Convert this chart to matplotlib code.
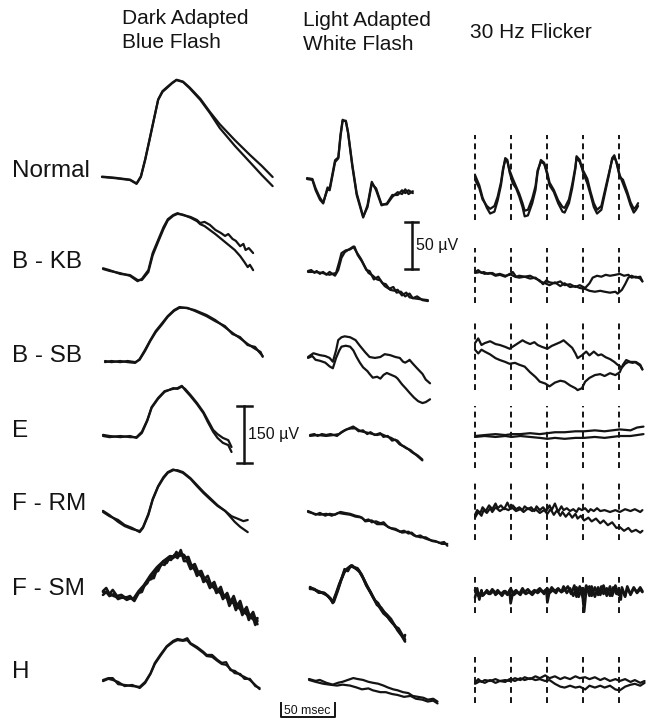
import numpy as np
import matplotlib
matplotlib.use("Agg")
import matplotlib.pyplot as plt
import matplotlib.transforms as mtransforms

# ---- data: each trace is a list of (time ms, amplitude uV) ----
# Dark adapted blue flash
da_normal_a = [(0,0),(12,-3),(26,-8),(32,-18),(36,0),(40,45),(44,97),(49,163),(52,203),(56,224),(60,234),(65,247),(69,255),(75,250),(81,234),(91,203),(100,168),(109,129),(123,82),(137,39),(148,5),(158,-24)]
da_normal_b = [(0,1),(12,-2),(26,-7),(32,-17),(36,2),(40,47),(44,99),(49,165),(52,204),(56,226),(60,236),(65,248),(69,256),(75,251),(81,236),(91,206),(100,171),(109,139),(123,97),(137,58),(148,29),(158,0)]
da_kb_a = [(0,0),(6,-5),(16,-11),(25,-18),(32,-32),(36,-26),(42,-3),(46,42),(51,76),(56,110),(60,131),(65,142),(69,147),(74,142),(81,137),(87,129),(90,121),(94,124),(99,116),(104,103),(109,95),(113,87),(116,92),(120,79),(123,74),(127,60),(130,66),(132,50),(135,55),(139,42)]
da_kb_b = [(0,2),(6,-3),(16,-13),(25,-16),(32,-29),(36,-29),(42,-8),(46,36),(51,71),(56,105),(60,128),(65,140),(69,145),(74,143),(81,135),(87,126),(90,118),(94,113),(104,92),(113,71),(122,50),(127,34),(131,18),(134,5),(136,11),(139,-3)]
da_sb_a = [(0,0),(6,-3),(14,0),(21,-3),(28,-5),(32,5),(37,29),(42,55),(47,79),(53,100),(58,118),(64,134),(69,142),(76,139),(83,134),(94,121),(102,108),(111,89),(118,74),(125,60),(132,45),(139,32),(144,24),(146,11)]
da_sb_b = [(0,-3),(6,0),(14,-3),(21,0),(28,-3),(32,3),(37,26),(42,53),(47,76),(53,97),(58,116),(64,132),(69,140),(76,140),(83,132),(94,118),(102,105),(111,92),(118,71),(125,63),(132,42),(139,37),(142,26),(146,13)]
da_e_a = [(0,0),(6,-3),(16,0),(25,-3),(31,-3),(36,11),(41,42),(45,76),(51,100),(57,118),(65,124),(69,126),(73,132),(76,121),(81,105),(87,84),(93,60),(97,37),(102,11),(106,-5),(111,-18),(116,-24),(119,-42)]
da_e_b = [(0,3),(6,0),(16,-3),(25,0),(31,-5),(36,8),(41,40),(45,74),(51,98),(57,116),(65,126),(69,124),(73,130),(76,124),(81,108),(87,87),(93,63),(97,42),(102,16),(106,5),(111,-5),(116,-11),(119,-29)]
da_rm_a = [(0,0),(6,-11),(14,-21),(20,-34),(27,-42),(34,-53),(37,-42),(42,-8),(46,32),(51,66),(56,89),(60,103),(65,110),(69,110),(74,105),(81,89),(87,71),(93,53),(99,37),(106,18),(113,3),(119,-11),(125,-18),(130,-24),(134,-21)]
da_rm_b = [(0,3),(6,-8),(14,-26),(20,-37),(27,-45),(34,-50),(37,-40),(42,-5),(46,34),(51,68),(56,92),(60,105),(65,112),(69,108),(74,103),(81,87),(87,68),(93,50),(99,34),(106,16),(113,3),(118,-13),(122,-26),(127,-39),(134,-53)]
da_sm_a = [(0,5),(3,13),(6,-3),(9,8),(13,-8),(17,-5),(21,-13),(25,-8),(28,-18),(32,-3),(35,8),(38,18),(41,26),(44,45),(47,39),(50,63),(53,71),(56,84),(59,79),(62,95),(65,92),(68,108),(70,97),(73,100),(76,92),(79,95),(82,71),(85,76),(88,55),(91,58),(94,37),(97,45),(100,21),(103,29),(106,5),(109,16),(112,-10),(115,0),(118,-24),(121,-8),(124,-34),(127,-21),(130,-50),(133,-37),(136,-63),(139,-50),(142,-76),(143,-66)]
da_sm_b = [(0,-5),(3,3),(6,-8),(10,-3),(14,-16),(18,-10),(22,-18),(26,-13),(29,-21),(33,0),(36,3),(39,24),(42,34),(45,37),(48,55),(51,58),(54,76),(57,74),(60,89),(63,87),(66,100),(69,92),(72,113),(75,84),(78,84),(81,63),(84,68),(87,45),(90,55),(93,29),(96,34),(99,13),(102,24),(105,0),(108,8),(111,-16),(114,-5),(117,-34),(120,-18),(123,-45),(126,-29),(129,-58),(132,-42),(135,-71),(138,-55),(141,-84),(143,-74)]
da_sm_c = [(0,3),(5,0),(10,-8),(16,-13),(22,-11),(28,-16),(33,5),(38,21),(44,47),(50,68),(56,84),(62,97),(67,95),(71,105),(75,100),(80,79),(86,58),(92,42),(98,26),(104,10),(110,-3),(116,-16),(122,-29),(128,-45),(134,-58),(140,-71),(143,-82)]
da_h_a = [(0,0),(5,5),(9,5),(14,-11),(20,-13),(27,-16),(34,-18),(39,-5),(44,18),(48,45),(53,66),(59,89),(65,103),(69,108),(74,105),(78,110),(81,97),(87,87),(93,74),(96,66),(101,66),(106,53),(110,45),(114,47),(118,26),(122,24),(127,13),(131,8),(136,0),(141,-13),(145,-24)]
da_h_b = [(0,-3),(5,3),(9,0),(14,-5),(20,-16),(27,-13),(34,-21),(39,-8),(44,16),(48,42),(53,63),(59,87),(65,100),(69,105),(74,103),(78,105),(81,95),(87,84),(93,71),(96,63),(101,61),(106,50),(110,42),(114,40),(118,29),(122,18),(127,16),(131,3),(136,3),(141,-16),(145,-21)]

# Light adapted white flash
la_normal_a = [(0,0),(5,-1),(8,-12),(12,-22),(15,-26),(19,-9),(21,-10),(26,20),(29,23),(31,47),(33,63),(36,61),(38,49),(42,13),(46,-17),(52,-41),(56,-28),(60,-3),(64,-12),(69,-28),(74,-26),(79,-17),(84,-17),(88,-12),(91,-15),(94,-12),(98,-15)]
la_normal_b = [(0,1),(5,0),(8,-10),(12,-20),(15,-25),(19,-11),(21,-12),(26,18),(29,22),(31,45),(33,62),(36,62),(38,50),(42,15),(46,-15),(52,-40),(56,-30),(60,-5),(64,-10),(69,-27),(74,-27),(79,-19),(84,-14),(88,-16),(91,-11),(94,-16),(98,-13)]
la_kb_a = [(0,0),(3,1),(6,-2),(8,0),(11,-3),(14,-1),(17,-4),(20,-1),(25,-5),(28,1),(31,14),(34,20),(38,23),(42,26),(45,20),(49,13),(53,4),(56,-2),(60,-5),(64,-9),(67,-10),(71,-16),(75,-19),(79,-17),(82,-23),(86,-22),(90,-27),(94,-24),(97,-29),(101,-27),(106,-31),(111,-32)]
la_kb_b = [(0,-1),(6,-1),(13,-2),(20,-4),(26,-2),(29,10),(31,19),(35,22),(39,23),(43,26),(46,17),(50,10),(54,1),(57,0),(61,-9),(65,-6),(69,-13),(72,-14),(76,-20),(80,-21),(83,-20),(87,-26),(91,-23),(94,-28),(98,-29),(104,-30),(111,-31)]
la_sb_a = [(0,0),(5,4),(11,2),(16,1),(20,-1),(23,-5),(26,7),(28,18),(31,21),(34,22),(39,21),(44,18),(48,12),(53,5),(57,0),(62,-1),(67,0),(71,3),(76,2),(81,0),(85,-1),(88,-5),(90,-6),(93,-4),(94,-3),(97,-7),(101,-12),(106,-18),(109,-24),(113,-28)]
la_sb_b = [(0,-1),(4,1),(7,-3),(11,-4),(16,-6),(20,-10),(23,-12),(26,-1),(29,7),(31,11),(35,12),(39,11),(42,7),(45,0),(48,-6),(51,-11),(55,-15),(57,-18),(60,-22),(64,-21),(67,-23),(70,-19),(73,-17),(77,-19),(81,-21),(83,-23),(87,-29),(91,-34),(94,-38),(98,-43),(102,-47),(106,-49),(109,-48),(113,-45)]
la_e_a = [(0,0),(4,1),(7,-1),(11,1),(15,0),(19,1),(25,-1),(29,3),(32,5),(36,7),(40,9),(44,6),(47,4),(51,3),(55,2),(58,1),(62,0),(66,1),(70,-1),(72,-2),(75,-3),(78,-5),(81,-6),(85,-11),(89,-14),(93,-16),(96,-19),(100,-22),(104,-26)]
la_e_b = [(0,-1),(7,0),(15,-1),(22,0),(27,1),(31,4),(34,6),(38,7),(42,7),(45,4),(49,5),(53,1),(56,3),(60,0),(65,2),(68,-2),(72,-1),(76,-6),(79,-5),(83,-10),(87,-12),(91,-15),(94,-18),(98,-21),(104,-27)]
la_rm_a = [(0,0),(4,-2),(7,-4),(11,-2),(16,-5),(20,-3),(25,-4),(30,-1),(34,-2),(39,-3),(44,-5),(48,-6),(53,-10),(56,-9),(59,-12),(63,-11),(67,-13),(70,-12),(74,-17),(78,-19),(81,-20),(85,-22),(89,-21),(93,-24),(96,-23),(100,-27),(104,-26),(108,-29),(113,-31),(118,-32),(122,-34),(126,-33),(129,-37)]
la_rm_b = [(0,-1),(6,-3),(11,-4),(17,-3),(22,-5),(28,-2),(33,-3),(39,-4),(44,-6),(50,-7),(53,-11),(59,-10),(64,-14),(70,-14),(76,-18),(81,-19),(87,-23),(93,-22),(98,-26),(104,-28),(109,-28),(115,-32),(120,-33),(124,-35),(129,-35)]
la_sm_a = [(0,0),(5,-2),(9,-4),(14,-6),(19,-11),(21,-16),(25,-4),(28,6),(31,16),(33,19),(37,23),(41,22),(44,21),(48,14),(52,3),(56,-4),(59,-11),(62,-18),(66,-21),(69,-26),(74,-34),(78,-39),(81,-45),(85,-51),(88,-57)]
la_sm_b = [(0,-1),(4,-1),(8,-5),(13,-5),(17,-9),(21,-15),(24,-6),(27,4),(30,12),(32,20),(35,18),(38,24),(42,21),(45,19),(49,11),(53,1),(57,-7),(60,-13),(63,-16),(67,-24),(71,-28),(75,-33),(79,-41),(82,-43),(85,-49),(88,-55)]
la_sm_c = [(0,1),(6,-3),(11,-5),(16,-8),(20,-13),(22,-15),(26,-2),(29,9),(32,17),(35,21),(39,24),(43,20),(46,17),(50,9),(54,0),(58,-9),(61,-15),(64,-20),(68,-27),(72,-31),(76,-37),(80,-42),(84,-49),(87,-54),(88,-50)]
la_h_a = [(0,0),(6,-2),(10,-1),(16,-4),(22,-6),(27,-4),(31,-3),(36,-1),(41,1),(45,0),(50,-1),(55,-3),(59,-4),(64,-5),(69,-7),(73,-9),(78,-11),(82,-12),(87,-14),(92,-15),(96,-18),(101,-19),(106,-20),(110,-22),(115,-21),(119,-24)]
la_h_b = [(0,-1),(6,-3),(13,-5),(19,-6),(26,-7),(31,-6),(38,-7),(44,-9),(49,-11),(55,-10),(59,-12),(66,-14),(71,-14),(77,-16),(82,-17),(88,-19),(94,-18),(99,-21),(105,-22),(110,-24),(115,-23),(119,-26)]

# 30 Hz flicker
fl_normal_a = [(0,0),(4,-11),(7,-24),(11,-35),(14,-41),(18,-39),(21,-27),(24,-11),(26,5),(28,18),(30,16),(32,3),(35,-9),(38,-14),(41,-23),(44,-34),(46,-44),(49,-43),(53,-30),(56,-16),(58,3),(61,16),(64,13),(67,0),(69,-11),(73,-18),(77,-30),(81,-39),(83,-40),(87,-30),(90,-14),(93,7),(94,20),(97,16),(100,3),(104,-9),(107,-21),(110,-34),(113,-41),(117,-37),(120,-21),(124,0),(127,18),(129,21),(131,13),(134,0),(137,-9),(141,-21),(144,-32),(147,-40),(149,-37),(151,-33)]
fl_normal_b = [(0,-5),(4,-14),(7,-26),(11,-33),(14,-36),(18,-33),(21,-23),(24,-8),(26,7),(28,16),(30,14),(32,5),(35,-4),(38,-12),(41,-20),(44,-30),(46,-38),(49,-37),(53,-25),(56,-12),(58,5),(61,14),(64,12),(67,2),(69,-8),(73,-16),(77,-27),(81,-34),(83,-35),(87,-26),(90,-10),(93,9),(94,18),(97,14),(100,5),(104,-4),(107,-18),(110,-30),(113,-37),(117,-33),(120,-18),(124,2),(127,16),(129,19),(131,14),(134,-2),(137,-5),(141,-18),(144,-29),(147,-36),(149,-34),(151,-30)]
fl_kb_a = [(0,0),(3,2),(6,-1),(8,0),(12,-2),(16,-1),(19,-3),(23,-2),(28,-4),(32,-3),(35,0),(38,-5),(41,-4),(46,-5),(51,-4),(56,-7),(60,-9),(63,-13),(66,-9),(69,-11),(74,-12),(79,-10),(83,-14),(88,-13),(93,-16),(97,-14),(102,-17),(106,-12),(109,-6),(113,-4),(117,-5),(121,-3),(125,-4),(130,-3),(134,-2),(138,-4),(142,-3),(145,-6),(149,-5),(153,-7),(155,-10)]
fl_kb_b = [(0,-1),(5,0),(9,-2),(14,-1),(19,-4),(23,-3),(28,-5),(32,-2),(37,-5),(41,-6),(46,-5),(51,-7),(56,-6),(60,-10),(65,-12),(69,-14),(74,-11),(79,-15),(83,-12),(88,-16),(93,-15),(97,-17),(102,-18),(106,-20),(111,-21),(116,-20),(120,-21),(125,-22),(130,-21),(132,-23),(136,-19),(139,-13),(142,-6),(145,-4),(149,-6),(153,-5),(155,-10)]
fl_sb_a = [(0,2),(3,7),(6,0),(9,2),(14,4),(19,1),(23,0),(28,-2),(32,-4),(36,-1),(40,2),(44,5),(47,3),(51,1),(55,3),(58,0),(62,-2),(67,-4),(71,-1),(75,1),(79,3),(82,5),(86,1),(90,-3),(93,-9),(95,-14),(99,-11),(103,-7),(106,-11),(110,-7),(114,-11),(117,-10),(121,-13),(125,-15),(129,-18),(132,-21),(136,-24),(139,-20),(142,-18),(146,-19),(149,-18),(153,-21),(155,-26)]
fl_sb_b = [(0,-5),(3,-9),(6,-5),(9,-7),(14,-10),(19,-14),(23,-16),(28,-18),(32,-20),(37,-19),(41,-21),(46,-23),(51,-29),(56,-34),(60,-39),(65,-41),(69,-44),(74,-40),(79,-38),(83,-39),(88,-43),(93,-46),(95,-48),(99,-46),(102,-39),(106,-35),(111,-32),(116,-31),(120,-33),(125,-30),(130,-32),(134,-29),(137,-21),(140,-16),(144,-18),(148,-18),(153,-22),(155,-26)]
fl_e_a = [(0,0),(9,1),(19,2),(28,1),(34,2),(42,2),(51,3),(60,2),(67,3),(74,4),(83,4),(93,5),(101,5),(111,6),(120,5),(127,6),(134,7),(144,6),(150,9),(156,10)]
fl_e_b = [(0,-1),(9,0),(19,-1),(28,0),(34,-1),(42,0),(51,-1),(60,-2),(67,-3),(74,-2),(83,-3),(93,-2),(101,-2),(111,-1),(120,-2),(127,-1),(134,0),(144,0),(150,1),(156,2)]
fl_rm_a = [(0,-3),(2,2),(5,-1),(7,5),(10,1),(13,7),(16,3),(19,9),(21,4),(24,7),(27,3),(30,10),(32,5),(35,7),(38,3),(41,5),(44,2),(46,6),(49,3),(52,5),(55,1),(57,6),(60,2),(63,5),(66,1),(69,7),(71,2),(74,9),(77,0),(80,6),(82,2),(85,4),(88,1),(91,3),(94,0),(96,4),(99,2),(102,4),(105,0),(107,3),(110,1),(113,4),(116,1),(120,2),(125,0),(130,2),(134,0),(139,3),(144,1),(148,3),(153,0),(155,2)]
fl_rm_b = [(0,-6),(3,0),(6,-4),(8,2),(11,-1),(14,4),(16,0),(19,5),(23,1),(27,4),(31,2),(34,5),(38,1),(42,3),(45,0),(49,4),(53,1),(56,3),(60,-1),(64,2),(67,-2),(70,3),(73,-3),(76,2),(79,-4),(81,0),(84,-5),(87,-1),(90,-6),(93,-2),(95,-7),(98,-4),(101,-9),(105,-6),(108,-10),(112,-7),(116,-12),(119,-9),(123,-14),(127,-11),(131,-17),(134,-16),(138,-20),(142,-17),(145,-21),(149,-19),(153,-22),(155,-20)]
fl_sm_a = [(0,-5),(2,5),(4,-7),(6,3),(7,-3),(10,1),(13,-1),(16,4),(19,0),(21,3),(24,-1),(27,2),(30,-2),(32,3),(33,-11),(35,0),(38,3),(41,-1),(44,5),(46,1),(49,4),(52,0),(55,3),(57,2),(60,5),(63,1),(66,4),(67,-10),(69,2),(71,6),(74,2),(77,5),(80,1),(82,7),(85,0),(88,5),(91,-3),(94,6),(96,-4),(99,5),(101,-20),(103,3),(106,7),(108,-3),(111,6),(114,-2),(117,7),(119,-1),(122,5),(125,-3),(128,6),(131,-1),(133,4),(135,-7),(136,6),(139,-3),(141,5),(144,-1),(147,6),(150,0),(153,4),(155,1)]
fl_sm_b = [(0,3),(3,-3),(6,1),(8,-2),(11,3),(14,-1),(17,2),(19,-2),(22,1),(25,-3),(28,2),(31,-1),(33,5),(36,-2),(39,1),(42,-2),(44,2),(47,-1),(50,1),(53,-2),(56,2),(58,0),(61,3),(64,-1),(67,5),(69,0),(72,3),(75,0),(77,4),(80,1),(83,3),(86,7),(89,-1),(92,8),(94,-4),(97,7),(100,-5),(103,8),(106,-3),(108,7),(111,-4),(114,6),(116,-2),(119,8),(122,-3),(125,7),(127,-3),(130,8),(133,-2),(136,4),(139,-4),(141,7),(144,-2),(147,5),(150,1),(153,6),(155,2)]
fl_h_a = [(0,-2),(3,2),(6,-1),(9,1),(14,0),(19,2),(23,0),(28,1),(32,0),(37,3),(42,1),(46,4),(51,2),(56,5),(60,3),(65,6),(69,3),(74,5),(79,2),(83,4),(88,2),(93,5),(97,3),(102,4),(106,2),(111,4),(116,1),(120,3),(125,0),(130,2),(134,0),(139,2),(144,-1),(148,1),(153,-2),(157,0)]
fl_h_b = [(0,-3),(5,0),(9,-2),(14,1),(19,-2),(23,0),(28,-1),(32,2),(37,0),(42,3),(46,1),(51,3),(56,1),(60,2),(65,0),(69,1),(74,-3),(79,-6),(83,-7),(88,-5),(93,-7),(97,-6),(102,-9),(106,-5),(111,-7),(116,-5),(120,-7),(125,-5),(130,-9),(134,-10),(139,-6),(144,-4),(148,-3),(153,-5),(157,-2)]

flash_times = [0, 33, 67, 100, 133]  # ms, 30 Hz stimuli

rows = ["Normal", "B - KB", "B - SB", "E", "F - RM", "F - SM", "H"]

traces = {
    0: [[da_normal_a, da_normal_b], [da_kb_a, da_kb_b], [da_sb_a, da_sb_b], [da_e_a, da_e_b],
        [da_rm_a, da_rm_b], [da_sm_a, da_sm_b, da_sm_c], [da_h_a, da_h_b]],
    1: [[la_normal_a, la_normal_b], [la_kb_a, la_kb_b], [la_sb_a, la_sb_b], [la_e_a, la_e_b],
        [la_rm_a, la_rm_b], [la_sm_a, la_sm_b, la_sm_c], [la_h_a, la_h_b]],
    2: [[fl_normal_a, fl_normal_b], [fl_kb_a, fl_kb_b], [fl_sb_a, fl_sb_b], [fl_e_a, fl_e_b],
        [fl_rm_a, fl_rm_b], [fl_sm_a, fl_sm_b], [fl_h_a, fl_h_b]],
}

# ---- layout (pixels) ----
PX_PER_MS = 1.08
px_per_uv = [57 / 150, 47 / 50, 47 / 50]
col_x0 = [[102, 103, 105, 103, 103, 103, 103],
          [307, 308, 308, 310, 308, 310, 309],
          [475, 475, 475, 475, 475, 475, 475]]
col_y0 = [[177, 269, 361, 436, 512, 593, 680],
          [179, 271, 357, 435, 511, 588, 679],
          [175, 272, 345, 436, 512, 593, 681]]
label_y = [171, 262, 356, 431, 504, 589, 672]
marker_span = [(135, 220), (248, 303), (322, 390), (406, 468), (483, 540), (577, 613), (657, 703)]
noisy_rows = [5]

plt.rcParams['font.family'] = ['Liberation Sans', 'DejaVu Sans']
fig = plt.figure(figsize=(6.49, 7.2), dpi=100)
ax = fig.add_axes([0, 0, 1, 1])
ax.set_xlim(0, 649)
ax.set_ylim(720, 0)
ax.axis('off')

INK = '#141414'


def panel_tr(x0, y0, ppu):
    return mtransforms.Affine2D().scale(PX_PER_MS, -ppu).translate(x0, y0) + ax.transData


for c in range(3):
    for r in range(len(rows)):
        tr = panel_tr(col_x0[c][r], col_y0[c][r], px_per_uv[c])
        lw = 1.9 if r in noisy_rows else 1.6
        for tr_data in traces[c][r]:
            arr = np.array(tr_data, dtype=float)
            ax.plot(arr[:, 0], arr[:, 1], color=INK, lw=lw, transform=tr,
                    solid_joinstyle='round', solid_capstyle='round')
        if c == 2:
            y0 = col_y0[c][r]
            top = (y0 - marker_span[r][0]) / px_per_uv[c]
            bot = (y0 - marker_span[r][1]) / px_per_uv[c]
            for ft in flash_times:
                ax.plot([ft, ft], [bot, top], color=INK, lw=1.4, ls=(0, (3, 2.2)), transform=tr)

# headers
hdr = 15
ax.text(122, 18, "Dark Adapted", fontsize=hdr, color=INK, va='center', ha='left')
ax.text(122, 42, "Blue Flash", fontsize=hdr, color=INK, va='center', ha='left')
ax.text(303, 21, "Light Adapted", fontsize=hdr, color=INK, va='center', ha='left')
ax.text(303, 45, "White Flash", fontsize=hdr, color=INK, va='center', ha='left')
ax.text(470, 33, "30 Hz Flicker", fontsize=hdr, color=INK, va='center', ha='left')

for r, name in enumerate(rows):
    ax.text(12, label_y[r], name, fontsize=17.5, color=INK, va='center', ha='left')

# 150 uV bar (dark adapted column, E row)
tr = panel_tr(col_x0[0][3], col_y0[0][3], px_per_uv[0])
bx, blo = 131, -71
ax.plot([bx, bx], [blo, blo + 150], color=INK, lw=1.8, transform=tr)
ax.plot([bx - 6.5, bx + 6.5], [blo, blo], color=INK, lw=1.8, transform=tr)
ax.plot([bx - 6.5, bx + 6.5], [blo + 150, blo + 150], color=INK, lw=1.8, transform=tr)
ax.text(bx + 3, blo + 75, "150 \u00b5V", fontsize=11.5, color=INK, va='center', ha='left', transform=tr)

# 50 uV bar (light adapted column, B - KB row)
tr = panel_tr(col_x0[1][1], col_y0[1][1], px_per_uv[1])
bx, blo = 96, 2
ax.plot([bx, bx], [blo, blo + 50], color=INK, lw=1.8, transform=tr)
ax.plot([bx - 6, bx + 6], [blo, blo], color=INK, lw=1.8, transform=tr)
ax.plot([bx - 6, bx + 6], [blo + 50, blo + 50], color=INK, lw=1.8, transform=tr)
ax.text(bx + 4, blo + 25, "50 \u00b5V", fontsize=11.5, color=INK, va='center', ha='left', transform=tr)

# 50 msec bar
tr = mtransforms.Affine2D().scale(PX_PER_MS, -1).translate(281, 717) + ax.transData
ax.plot([0, 0, 50, 50], [14, 0, 0, 14], color=INK, lw=1.4, transform=tr)
ax.text(24.5, 6.5, "50 msec", fontsize=8.8, color=INK, va='center', ha='center', transform=tr)

fig.savefig("out.png", dpi=100)
